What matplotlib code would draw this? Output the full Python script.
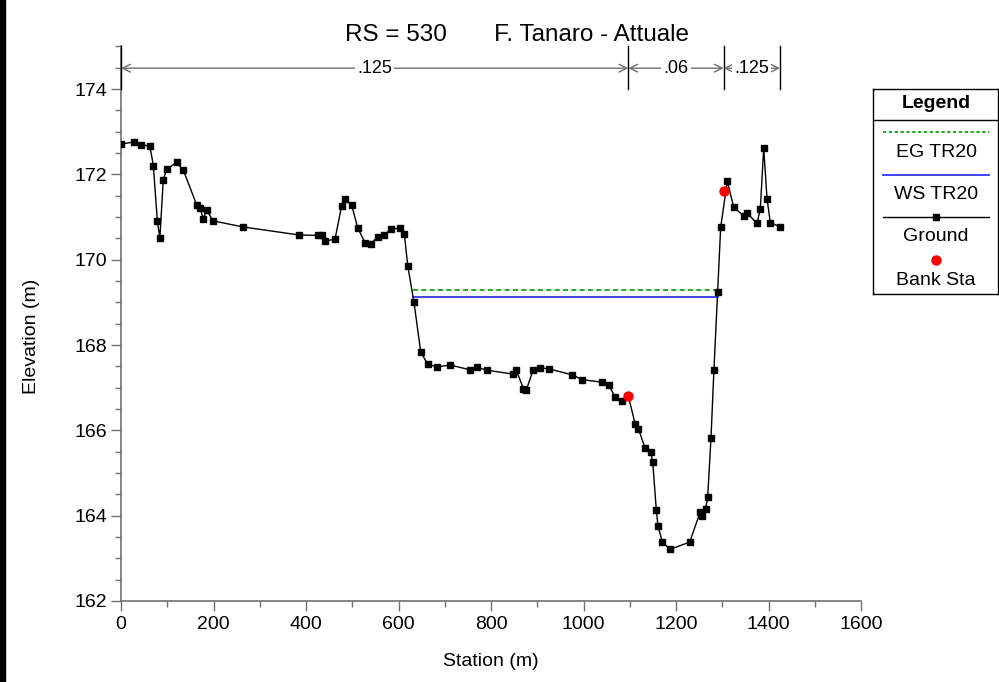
import matplotlib
matplotlib.use("Agg")
import matplotlib.pyplot as plt
from matplotlib.patches import Rectangle
from matplotlib.ticker import MultipleLocator

plt.rcParams['font.family'] = ['Liberation Sans', 'DejaVu Sans']

# Ground profile (station, elevation)
station = [0, 28, 42.5, 62.7, 70, 78.6, 84, 91.5, 98.7, 120, 134.7, 163.5, 170.8, 178, 185,
           199.6, 263, 385, 426.7, 434, 441.7, 462.7, 477, 484.3, 498.8, 511.7, 527.6, 540.5,
           555, 569.4, 583.8, 603, 612.6, 620, 633.5, 648, 663, 684, 712, 754.6, 769.7, 790.7,
           847.6, 854.7, 870, 876.3, 890.8, 905.3, 926, 975.9, 996.8, 1039, 1054.4, 1068.8,
           1083, 1097, 1111.4, 1118.6, 1133, 1145.3, 1149.6, 1157.4, 1161, 1170.4, 1187,
           1229.6, 1252.5, 1256, 1264, 1268.5, 1275.7, 1282, 1290, 1296.6, 1311, 1324.8,
           1346.4, 1353.5, 1375, 1382.3, 1389.6, 1396.8, 1404, 1425]
elevation = [172.71, 172.76, 172.70, 172.66, 172.20, 170.91, 170.51, 171.88, 172.12, 172.28,
             172.10, 171.29, 171.21, 170.96, 171.16, 170.91, 170.77, 170.58, 170.57, 170.59,
             170.44, 170.48, 171.26, 171.42, 171.28, 170.75, 170.40, 170.38, 170.54, 170.58,
             170.72, 170.74, 170.60, 169.86, 169.00, 167.84, 167.55, 167.49, 167.53, 167.42,
             167.48, 167.41, 167.32, 167.41, 166.98, 166.94, 167.41, 167.47, 167.44, 167.30,
             167.19, 167.13, 167.06, 166.78, 166.69, 166.80, 166.16, 166.04, 165.59, 165.49,
             165.27, 164.14, 163.76, 163.39, 163.21, 163.38, 164.09, 164.00, 164.16, 164.44,
             165.83, 167.42, 169.24, 170.76, 171.84, 171.23, 171.03, 171.10, 170.85, 171.19,
             172.62, 171.43, 170.87, 170.77]

# Bank stations
bank_sta = [1097, 1303]
bank_elev = [166.80, 171.61]

# Water surface / energy grade (TR20)
ws_elev = 169.13
eg_elev = 169.28
wet_left = 632
wet_right = 1290

# Manning's n regions
n_breaks = [0, 1097, 1303, 1425]
n_values = ['.125', '.06', '.125']
n_level = 174.49

GREY = '#707070'

fig = plt.figure(figsize=(9.99, 6.82), dpi=100)
fig.patches.append(Rectangle((0, 0), 5 / 999, 1, transform=fig.transFigure,
                             color='black', zorder=0))

ax = fig.add_axes([121 / 999, 1 - 601 / 682, 740 / 999, 555 / 682])
ax.set_xlim(0, 1600)
ax.set_ylim(162, 175.01)

# water lines
ax.plot([wet_left, wet_right], [eg_elev, eg_elev], color='#009900', lw=1.2,
        linestyle=(0, (3, 2)), zorder=2)
ax.plot([wet_left, wet_right], [ws_elev, ws_elev], color='#3333ff', lw=1.3, zorder=2)

# ground
ax.plot(station, elevation, color='black', lw=1, marker='s', markersize=4.3, zorder=3)
ax.plot(bank_sta, bank_elev, linestyle='none', marker='o', color='red',
        markersize=6.5, zorder=4)

# Manning's n bar
for xb in n_breaks:
    ax.plot([xb, xb], [174.0, 175.01], color='black', lw=1, clip_on=False, zorder=3)
for i, label in enumerate(n_values):
    x0, x1 = n_breaks[i], n_breaks[i + 1]
    ax.annotate('', xy=(x0, n_level), xytext=(x1, n_level),
                arrowprops=dict(arrowstyle='<->', color=GREY, lw=1, shrinkA=0, shrinkB=0,
                                mutation_scale=14))
    ax.text((x0 + x1) / 2, n_level, label, ha='center', va='center', fontsize=13,
            bbox=dict(facecolor='white', edgecolor='none', pad=1.5), zorder=4)

# axes styling
for side in ['top', 'right']:
    ax.spines[side].set_visible(False)
for side in ['left', 'bottom']:
    ax.spines[side].set_color(GREY)
    ax.spines[side].set_linewidth(1.2)
ax.xaxis.set_major_locator(MultipleLocator(200))
ax.xaxis.set_minor_locator(MultipleLocator(100))
ax.yaxis.set_major_locator(MultipleLocator(2))
ax.yaxis.set_minor_locator(MultipleLocator(0.5))
ax.tick_params(which='major', length=7, width=1, color=GREY, labelsize=14, pad=3)
ax.tick_params(which='minor', length=4.5, width=1, color=GREY)
ax.tick_params(axis='x', which='major', pad=4)

fig.text(517 / 999, 1 - 41 / 682, 'RS = 530       F. Tanaro - Attuale', ha='center',
         va='baseline', fontsize=17.5)
fig.text(491 / 999, 1 - 662 / 682, 'Station (m)', ha='center', va='center', fontsize=14)
fig.text(32 / 999, 1 - 336 / 682, 'Elevation (m)', ha='center', va='center',
         fontsize=14, rotation=90)

# legend box
lg = fig.add_axes([873 / 999, 1 - 294 / 682, 125 / 999, 205 / 682])
lg.set_xlim(873, 998)
lg.set_ylim(294, 89)
lg.set_xticks([])
lg.set_yticks([])
for s in lg.spines.values():
    s.set_color('black')
    s.set_linewidth(1)
lg.axhline(119.5, color='black', lw=1)
lg.text(936, 103, 'Legend', ha='center', va='center', fontsize=14, fontweight='bold')
lg.plot([883, 989], [132, 132], color='#009900', lw=1.2, linestyle=(0, (2, 1.5)))
lg.text(936, 152, 'EG TR20', ha='center', va='center', fontsize=14)
lg.plot([883, 989], [175, 175], color='#3333ff', lw=1.3)
lg.text(936, 194, 'WS TR20', ha='center', va='center', fontsize=14)
lg.plot([883, 989], [217, 217], color='black', lw=1)
lg.plot([936], [217], marker='s', color='black', markersize=4.3)
lg.text(936, 236, 'Ground', ha='center', va='center', fontsize=14)
lg.plot([936], [260], marker='o', color='red', markersize=6.5)
lg.text(936, 280, 'Bank Sta', ha='center', va='center', fontsize=14)

fig.savefig('out.png', dpi=100)
